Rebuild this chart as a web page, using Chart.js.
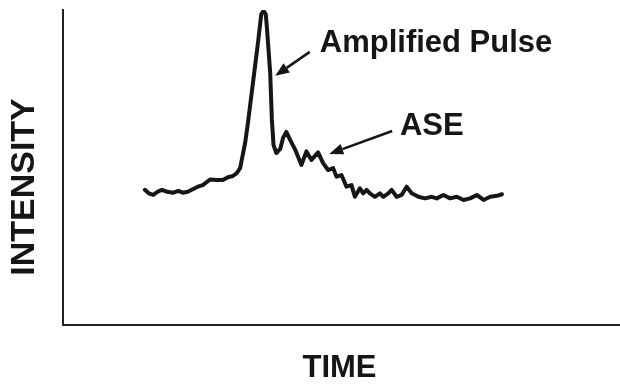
<!DOCTYPE html>
<html>
<head>
<meta charset="utf-8">
<script src="https://cdn.jsdelivr.net/npm/chart.js@4.4.1/dist/chart.umd.min.js"></script>
<style>
  html, body { margin: 0; padding: 0; background: #ffffff; }
  #wrap { width: 620px; height: 385px; position: relative; }
</style>
</head>
<body>
<div id="wrap"><canvas id="c" width="620" height="385"></canvas></div>
<script>
// Pulse trace: time (arbitrary units) and intensity (arbitrary units)
const timeValues = [
  14.7, 15.4, 16.2, 17.1, 17.8, 18.7, 19.8, 20.7, 21.5, 22.4,
  23.3, 24.2, 25.1, 26.4, 27.6, 28.7, 29.6, 30.5, 31.2, 31.8,
  32.7, 33.2, 34.1, 35.0, 35.6, 36.0, 36.4, 36.6, 37.2, 37.5,
  37.8, 38.3, 39.0, 39.5, 40.1, 40.8, 41.7, 42.8, 43.7, 44.6,
  45.8, 46.7, 47.6, 48.5, 49.1, 50.0, 50.9, 51.8, 52.4, 53.3,
  53.9, 54.5, 55.1, 56.0, 56.9, 57.5, 58.4, 59.0, 59.9, 60.8,
  61.7, 62.6, 63.8, 65.0, 66.2, 67.1, 68.3, 69.5, 70.7, 71.9,
  73.1, 74.3, 75.5, 76.7, 77.9, 78.8
];
const intensityValues = [
  42.9, 41.8, 41.3, 42.4, 42.9, 42.3, 42.0, 42.6, 42.0, 42.3,
  43.1, 43.9, 44.4, 46.2, 46.0, 46.0, 46.9, 47.3, 48.2, 49.8,
  57.8, 64.1, 76.8, 89.5, 98.7, 99.7, 98.7, 94.6, 80.0, 65.1,
  57.1, 54.6, 55.9, 59.4, 61.3, 58.7, 55.6, 50.8, 55.1, 52.4,
  54.8, 51.4, 49.2, 49.8, 47.1, 47.6, 43.9, 44.4, 40.7, 43.4,
  41.8, 42.9, 41.8, 40.7, 41.8, 40.7, 41.8, 42.9, 40.7, 41.3,
  43.9, 41.8, 40.7, 40.2, 40.7, 40.2, 41.3, 40.2, 40.7, 39.7,
  40.2, 41.3, 39.7, 40.7, 41.0, 41.5
];

// Axis ranges
const timeRange = [0, 100];
const intensityRange = [0, 100];

// Text labels
const xTitle = 'TIME';
const yTitle = 'INTENSITY';
const callouts = [
  { text: 'Amplified Pulse', from: [44.3, 86.7], to: [38.1, 79.1], at: [46.1, 86.7] },
  { text: 'ASE',             from: [59.1, 61.6], to: [47.8, 54.3], at: [60.5, 60.3] }
];

const ink = '#161616';
const fontFamily = '"Liberation Sans", Arial, Helvetica, sans-serif';

const points = timeValues.map((t, i) => ({ x: t, y: intensityValues[i] }));

function drawArrow(ctx, x1, y1, x2, y2) {
  const ang = Math.atan2(y2 - y1, x2 - x1);
  const headLen = 14, headHalf = 5.5;
  const bx = x2 - headLen * Math.cos(ang);
  const by = y2 - headLen * Math.sin(ang);
  ctx.beginPath();
  ctx.moveTo(x1, y1);
  ctx.lineTo(bx, by);
  ctx.lineWidth = 2.5;
  ctx.strokeStyle = ink;
  ctx.stroke();
  ctx.beginPath();
  ctx.moveTo(x2, y2);
  ctx.lineTo(bx + headHalf * Math.sin(ang), by - headHalf * Math.cos(ang));
  ctx.lineTo(bx - headHalf * Math.sin(ang), by + headHalf * Math.cos(ang));
  ctx.closePath();
  ctx.fillStyle = ink;
  ctx.fill();
}

const labelsPlugin = {
  id: 'labels',
  afterDraw(chart) {
    const { ctx, chartArea, scales } = chart;
    const xs = scales.x, ys = scales.y;
    ctx.save();
    ctx.fillStyle = ink;
    ctx.textBaseline = 'alphabetic';
    ctx.textAlign = 'left';
    ctx.font = 'bold 31px ' + fontFamily;
    callouts.forEach(c => {
      drawArrow(ctx,
        xs.getPixelForValue(c.from[0]), ys.getPixelForValue(c.from[1]),
        xs.getPixelForValue(c.to[0]), ys.getPixelForValue(c.to[1]));
      ctx.fillStyle = ink;
      ctx.fillText(c.text, xs.getPixelForValue(c.at[0]), ys.getPixelForValue(c.at[1]));
    });

    // axis titles
    ctx.textAlign = 'center';
    ctx.textBaseline = 'middle';
    ctx.font = 'bold 31px ' + fontFamily;
    ctx.fillText(xTitle, (chartArea.left + chartArea.right) / 2 - 2, chartArea.bottom + 43);

    ctx.save();
    ctx.translate(chartArea.left - 38, chartArea.top + 177);
    ctx.rotate(-Math.PI / 2);
    ctx.font = 'bold 34px ' + fontFamily;
    ctx.fillText(yTitle, 0, 0);
    ctx.restore();
    ctx.restore();
  }
};

new Chart(document.getElementById('c'), {
  type: 'line',
  data: {
    datasets: [{
      data: points,
      borderColor: ink,
      borderWidth: 4,
      borderJoinStyle: 'round',
      borderCapStyle: 'round',
      pointRadius: 0,
      tension: 0,
      fill: false
    }]
  },
  options: {
    responsive: false,
    animation: false,
    events: [],
    layout: { padding: { left: 63, top: 10, right: 0, bottom: 60 } },
    plugins: { legend: { display: false }, tooltip: { enabled: false }, title: { display: false } },
    scales: {
      x: {
        type: 'linear',
        min: timeRange[0], max: timeRange[1],
        ticks: { display: false },
        grid: { display: false, drawTicks: false },
        border: { display: true, color: '#222', width: 2 },
        afterFit(s) { s.height = 0; }
      },
      y: {
        type: 'linear',
        min: intensityRange[0], max: intensityRange[1],
        ticks: { display: false },
        grid: { display: false, drawTicks: false },
        border: { display: true, color: '#222', width: 2 },
        afterFit(s) { s.width = 0; }
      }
    }
  },
  plugins: [labelsPlugin]
});
</script>
</body>
</html>
